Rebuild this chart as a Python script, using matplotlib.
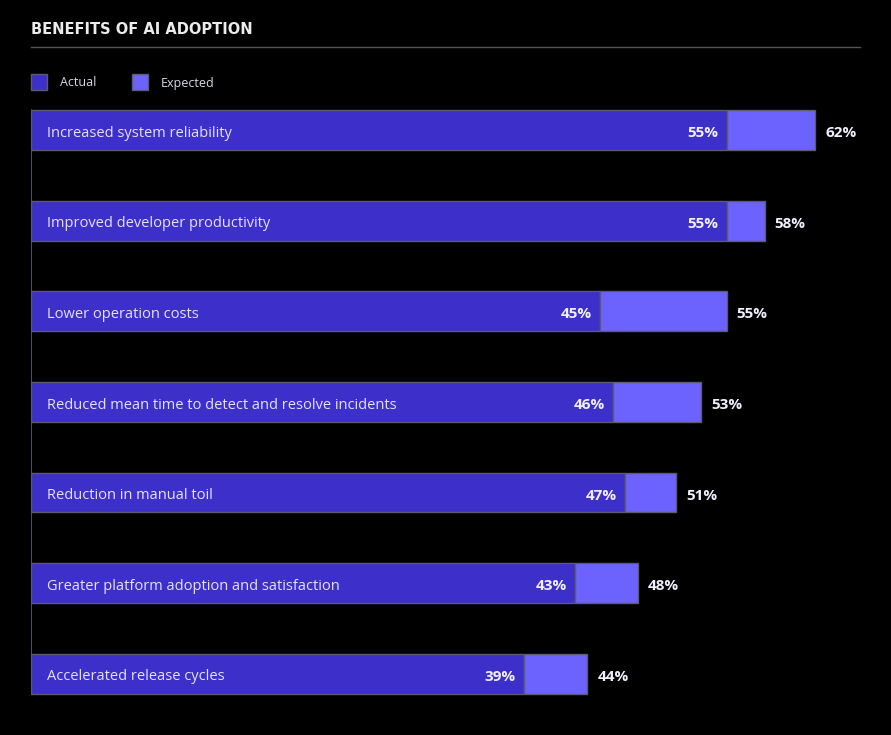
import matplotlib.pyplot as plt

categories = [
    "Increased system reliability",
    "Improved developer productivity",
    "Lower operation costs",
    "Reduced mean time to detect and resolve incidents",
    "Reduction in manual toil",
    "Greater platform adoption and satisfaction",
    "Accelerated release cycles",
]
actual = [55, 55, 45, 46, 47, 43, 39]
expected = [62, 58, 55, 53, 51, 48, 44]

BG = "#000000"
ACTUAL_COLOR = "#3d2fca"
EXPECTED_COLOR = "#6c63fe"
EDGE = "#5c5c6e"
TEXT = "#e6e2ff"

W, H = 891, 735
fig = plt.figure(figsize=(W / 100, H / 100), dpi=100, facecolor=BG)
plt.rcParams["font.family"] = ["Open Sans", "DejaVu Sans"]

# axes spans pixel x 31..891, y 100..700
ax = fig.add_axes([31 / W, 1 - 700 / H, (W - 31) / W, 600 / H])
ax.set_facecolor(BG)
ax.set_xlim(0, 68)
ax.set_ylim(6.29, -0.331)
ax.axis("off")

ypos = list(range(len(categories)))
bar_h = 0.44
dy = 0.035  # Open Sans sits a little high when centred

ax.plot([0, 0], [-bar_h / 2, ypos[-1] + bar_h / 2], color=EDGE, lw=1.2, zorder=1)

ax.barh(ypos, actual, height=bar_h, color=ACTUAL_COLOR, edgecolor=EDGE, linewidth=1, zorder=2)
ax.barh(ypos, [e - a for a, e in zip(actual, expected)], left=actual, height=bar_h,
        color=EXPECTED_COLOR, edgecolor=EDGE, linewidth=1, zorder=2)

for y, cat, a, e in zip(ypos, categories, actual, expected):
    ax.text(1.3, y + dy, cat, color=TEXT, fontsize=10.5, va="center", ha="left", zorder=3)
    ax.text(a - 0.65, y + dy, f"{a}%", color="#f2f0ff", fontsize=11, fontweight="bold",
            va="center", ha="right", zorder=3)
    ax.text(e + 0.8, y + dy, f"{e}%", color="#f2f0ff", fontsize=11, fontweight="bold",
            va="center", ha="left", zorder=3)

# title and rule
fig.text(31 / W, 1 - 30 / H, "BENEFITS OF AI ADOPTION", color="#ececec", fontsize=10.5,
         fontweight="bold", va="center", ha="left", family="DejaVu Sans")
fig.add_artist(plt.Line2D([31 / W, 860 / W], [1 - 47 / H, 1 - 47 / H], color="#555555", lw=1))

# legend
for x0, label, color in ((31, "Actual", ACTUAL_COLOR), (132, "Expected", EXPECTED_COLOR)):
    fig.add_artist(plt.Rectangle((x0 / W, 1 - 90 / H), 16 / W, 16 / H, facecolor=color,
                                 edgecolor=EDGE, lw=1))
    fig.text((x0 + 29) / W, 1 - 83 / H, label, color="#d8d8e8", fontsize=9, va="center", ha="left")

fig.savefig("out.png", dpi=100, facecolor=BG)
